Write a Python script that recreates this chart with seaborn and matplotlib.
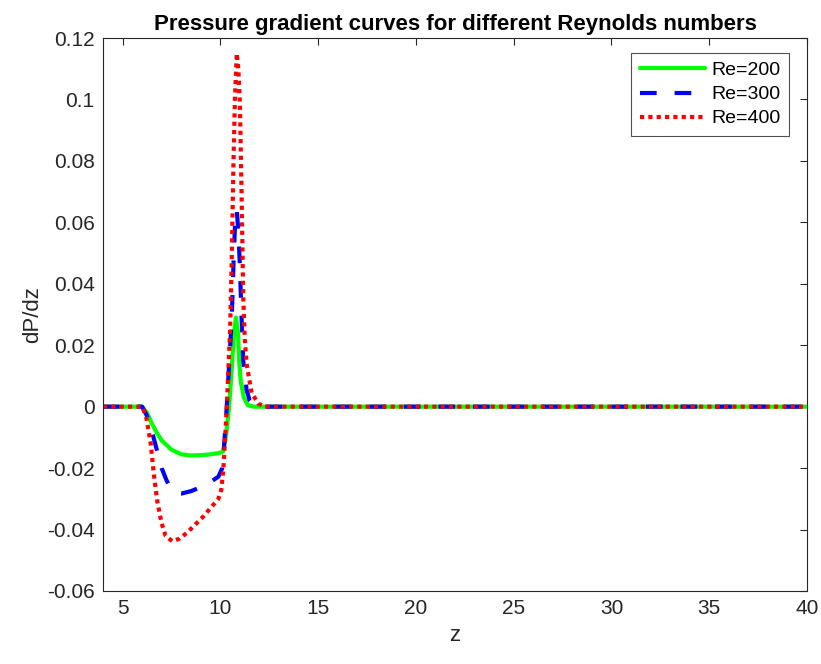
import numpy as np
import pandas as pd
import matplotlib
matplotlib.use("Agg")
import matplotlib.pyplot as plt
import seaborn as sns
from matplotlib.ticker import FuncFormatter

# ---- data ----
z_200 = [4, 6.0, 6.25, 6.5, 6.75, 7.0, 7.5, 8.0, 8.5, 9.0, 9.5, 10.0, 10.15,
         10.3, 10.45, 10.6, 10.7, 10.8, 10.9, 10.97, 11.05, 11.2, 11.4, 11.7, 40]
dp_200 = [0, 0, -0.002, -0.0055, -0.0085, -0.011, -0.014, -0.0155, -0.0159,
          -0.0158, -0.0155, -0.0150, -0.0145, -0.009, 0.0, 0.014, 0.024, 0.029,
          0.024, 0.014, 0.008, 0.003, 0.0005, 0.0, 0]

z_300 = [4, 6.0, 6.25, 6.5, 6.75, 7.0, 7.25, 7.5, 7.75, 8.0, 8.5, 9.0, 9.5, 9.9,
         10.1, 10.2, 10.33, 10.45, 10.58, 10.67, 10.75, 10.84, 10.92, 11.0,
         11.08, 11.17, 11.34, 11.5, 11.7, 12.0, 40]
dp_300 = [0, 0, -0.003, -0.008, -0.014, -0.020, -0.024, -0.027, -0.0282,
          -0.0283, -0.0275, -0.0262, -0.0245, -0.0228, -0.020, -0.012, 0.0,
          0.014, 0.028, 0.046, 0.059, 0.064, 0.057, 0.046, 0.030, 0.015,
          0.0055, 0.002, 0.0005, 0.0, 0]

z_400 = [4, 6.0, 6.2, 6.44, 6.6, 6.78, 7.0, 7.2, 7.54, 7.9, 8.3, 8.7, 9.14, 9.5,
         9.9, 10.05, 10.16, 10.33, 10.5, 10.58, 10.67, 10.75, 10.84, 10.92,
         11.0, 11.09, 11.17, 11.25, 11.34, 11.6, 11.94, 12.3, 40]
dp_400 = [0, 0, -0.003, -0.012, -0.022, -0.031, -0.038, -0.042, -0.0438,
          -0.0430, -0.041, -0.0385, -0.0357, -0.033, -0.030, -0.027, -0.020,
          0.0, 0.025, 0.047, 0.079, 0.101, 0.115, 0.110, 0.099, 0.068, 0.036,
          0.022, 0.014, 0.0045, 0.001, 0.0, 0]

labels = ["Re=200", "Re=300", "Re=400"]
x_ticks = [5, 10, 15, 20, 25, 30, 35, 40]
y_ticks = [-0.06, -0.04, -0.02, 0, 0.02, 0.04, 0.06, 0.08, 0.1, 0.12]

# ---- style ----
sns.set_theme(style="white")
plt.rcParams["font.family"] = ["Liberation Sans", "DejaVu Sans"]
plt.rcParams["axes.unicode_minus"] = False

fig = plt.figure(figsize=(8.21, 6.64), dpi=100)
ax = fig.add_axes([103 / 821, 1 - 591 / 664, (807 - 103) / 821, (591 - 38) / 664])

axis_col = "#262626"
sns.lineplot(x=z_200, y=dp_200, ax=ax, color=(0, 1, 0), linewidth=3.0,
             linestyle="-", sort=False, label=labels[0])
sns.lineplot(x=z_300, y=dp_300, ax=ax, color=(0, 0, 1), linewidth=3.0,
             linestyle=(0, (4.0, 4.3)), sort=False, label=labels[1])
sns.lineplot(x=z_400, y=dp_400, ax=ax, color=(1, 0, 0), linewidth=3.0,
             linestyle=(0, (1, 1)), sort=False, label=labels[2])

ax.set_xlim(4, 40)
ax.set_ylim(-0.06, 0.12)
ax.set_xticks(x_ticks)
ax.set_yticks(y_ticks)
ax.yaxis.set_major_formatter(FuncFormatter(lambda v, p: "%g" % round(v, 4)))
ax.tick_params(axis="both", which="both", direction="in", length=5, width=0.8,
               colors=axis_col, labelsize=15, top=True, right=True,
               labeltop=False, labelright=False, pad=6)
for s in ax.spines.values():
    s.set_color(axis_col)
    s.set_linewidth(0.8)

ax.set_xlabel("z", fontsize=16, color=axis_col, labelpad=5)
ax.set_ylabel("dP/dz", fontsize=16, color=axis_col, labelpad=3)
ax.set_title("Pressure gradient curves for different Reynolds numbers",
             fontsize=16, fontweight="bold", color="black", pad=6)

leg = ax.legend(loc="upper right", bbox_to_anchor=(0.9744, 0.973), fontsize=14,
                frameon=True, fancybox=False, handlelength=3.35,
                borderpad=0.45, labelspacing=0.33, handletextpad=0.3,
                borderaxespad=0.0)
leg.get_frame().set_edgecolor(axis_col)
leg.get_frame().set_linewidth(0.8)
for t in leg.get_texts():
    t.set_color("black")

fig.savefig("out.png", dpi=100)
